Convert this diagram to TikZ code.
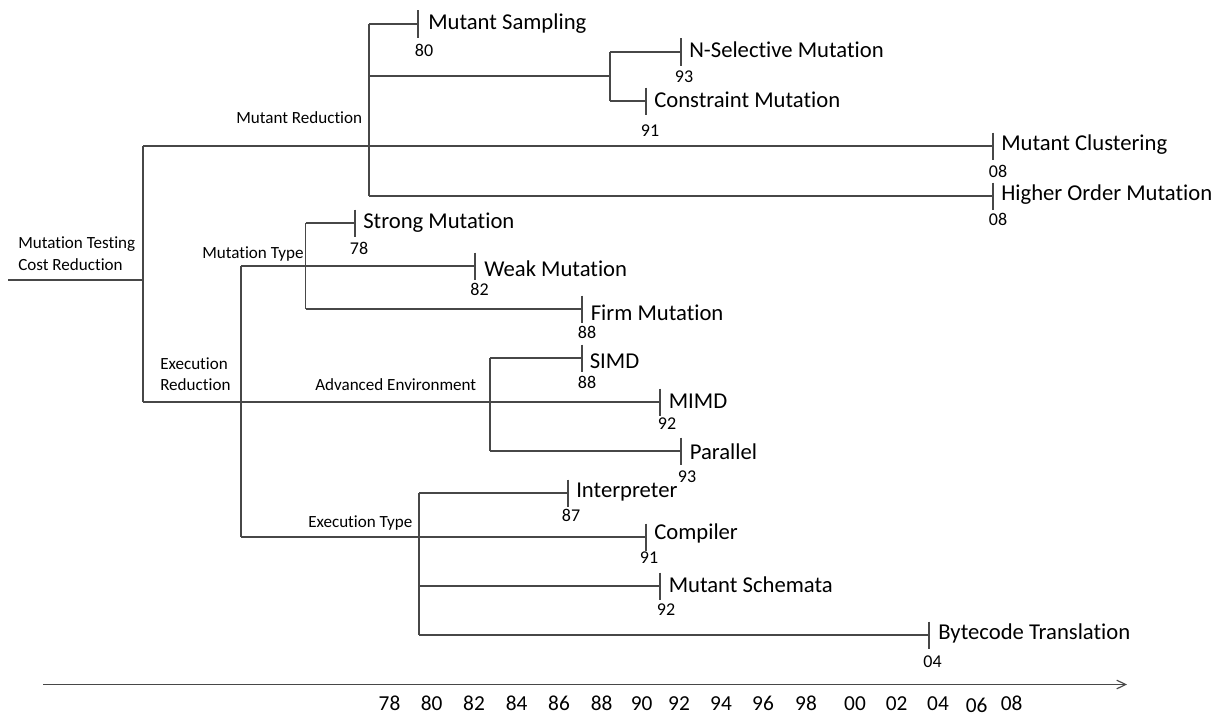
\documentclass[tikz,border=0pt]{standalone}
\usepackage{fontspec}
\setmainfont[Ligatures=NoCommon]{Carlito}
\usetikzlibrary{arrows.meta}
\newcommand\leafnode[9]{%
  \coordinate (#1) at (#2,#3);
  \draw[tickmark] (#1) ++(0,-13.5) -- ++(0,27.5);
  \node[leaf] (#1-t) at (#5,#6) {#4};
  \node[yr] (#1-y) at (#8,#9) {#7};
}
\begin{document}
\begin{tikzpicture}[x=0.75pt,y=-0.75pt,
  conn/.style={draw=black!72,line width=0.85pt},
  tickmark/.style={draw=black!72,line width=0.85pt},
  leaf/.style={anchor=base west,inner sep=0pt,font=\fontsize{17}{20}\selectfont},
  yr/.style={anchor=base,inner sep=0pt,font=\fontsize{13.5}{16}\selectfont},
  brlabel/.style={anchor=base west,inner sep=0pt,font=\fontsize{12.8}{15}\selectfont},
  axlab/.style={anchor=base,inner sep=0pt,font=\fontsize{16}{19}\selectfont}]
\useasboundingbox (0,0) rectangle (1219,717);

% leaves: name, tick x, line y, label, text x, text baseline, year, year x, year baseline
\leafnode{samp}{418}{24}{Mutant Sampling}{428}{30}{80}{424}{57}
\leafnode{nsel}{681}{52}{N-Selective Mutation}{689}{58}{93}{684}{82}
\leafnode{constr}{646}{101}{Constraint Mutation}{654}{107}{91}{650}{136}
\leafnode{clust}{993}{146}{Mutant Clustering}{1001}{150}{08}{998}{177}
\leafnode{higher}{993}{196}{Higher Order Mutation}{1001}{200}{08}{998}{225}
\leafnode{strong}{355}{223}{Strong Mutation}{363}{228}{78}{359}{254}
\leafnode{weak}{475}{266}{Weak Mutation}{484}{276}{82}{479.5}{295}
\leafnode{firm}{582}{309}{Firm Mutation}{590.5}{320}{88}{587}{338}
\leafnode{simd}{582}{358}{SIMD}{589.5}{368}{88}{587}{388}
\leafnode{mimd}{660}{402}{MIMD}{668.5}{408}{92}{667}{429}
\leafnode{par}{681}{451}{Parallel}{689.5}{459}{93}{687}{482}
\leafnode{interp}{568}{493}{Interpreter}{576}{497}{87}{571}{521}
\leafnode{comp}{646}{537}{Compiler}{654}{539}{91}{649}{563}
\leafnode{schem}{660}{586}{Mutant Schemata}{668.5}{592}{92}{666}{615}
\leafnode{byte}{929}{635}{Bytecode Translation}{938}{639}{04}{932.5}{667}

% branch points
\coordinate (rootL) at (8,280);
\coordinate (rootR) at (143,280);
\coordinate (rTop) at (143,146);
\coordinate (rBot) at (143,402);
\coordinate (mrTop) at (369,24);
\coordinate (mrMid) at (369,76);
\coordinate (mrBot) at (369,196);
\coordinate (nsTop) at (610,52);
\coordinate (nsMid) at (610,76);
\coordinate (nsBot) at (610,101);
\coordinate (erTop) at (241,266);
\coordinate (erBot) at (241,537);
\coordinate (mtTop) at (305.5,223);
\coordinate (mtBot) at (305.5,309);
\coordinate (aeTop) at (490,358);
\coordinate (aeBot) at (490,451);
\coordinate (etTop) at (419,493);
\coordinate (etSch) at (419,586);
\coordinate (etBot) at (419,635);

% connectors
\draw[conn] (rootL) -- (rootR);
\draw[conn] (rTop) -- (rBot);
\draw[conn] (rTop) -- (clust);
\draw[conn] (rBot) -- (mimd);
\draw[conn] (mrTop) -- (mrBot);
\draw[conn] (mrTop) -- (samp);
\draw[conn] (mrMid) -- (nsMid);
\draw[conn] (nsTop) -- (nsBot);
\draw[conn] (nsTop) -- (nsel);
\draw[conn] (nsBot) -- (constr);
\draw[conn] (mrBot) -- (higher);
\draw[conn] (erTop) -- (erBot);
\draw[conn] (erTop) -- (weak);
\draw[conn] (erBot) -- (comp);
\draw[conn] (mtTop) -- (mtBot);
\draw[conn] (mtTop) -- (strong);
\draw[conn] (mtBot) -- (firm);
\draw[conn] (aeTop) -- (aeBot);
\draw[conn] (aeTop) -- (simd);
\draw[conn] (aeBot) -- (par);
\draw[conn] (etTop) -- (etBot);
\draw[conn] (etTop) -- (interp);
\draw[conn] (etSch) -- (schem);
\draw[conn] (etBot) -- (byte);

% branch labels
\node[brlabel] (mtc1) at (18,248) {Mutation Testing};
\node[brlabel] (mtc2) at (18,270) {Cost Reduction};
\node[brlabel] (mred) at (236,123.5) {Mutant Reduction};
\node[brlabel] (mtype) at (202,258) {Mutation Type};
\node[brlabel] (exr1) at (160,369) {Execution};
\node[brlabel] (exr2) at (160,390) {Reduction};
\node[brlabel] (aenv) at (315,390) {Advanced Environment};
\node[brlabel] (etype) at (308,527) {Execution Type};

% time axis
\coordinate (ax0) at (43,684.5);
\coordinate (ax1) at (1127,684.5);
\draw[conn,-{Straight Barb[length=6.75pt,width=6.5pt]}] (ax0) -- (ax1);
\foreach \px/\lab [count=\i] in {389.5/78,431.7/80,474/82,516.7/84,559/86,601.7/88,641.7/90,679/92,721/94,763/96,806/98,855/00,896.7/02,938/04,1011.7/08}
  \node[axlab] (ax-\i) at (\px,710) {\lab};
\node[axlab] (ax-06) at (976.7,712.5) {06};
\end{tikzpicture}
\end{document}
